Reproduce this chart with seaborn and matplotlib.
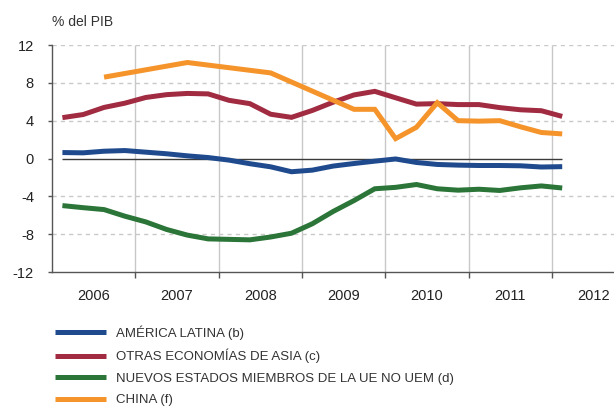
import numpy as np
import pandas as pd
import matplotlib
matplotlib.use("Agg")
import matplotlib.pyplot as plt
import seaborn as sns
from matplotlib.lines import Line2D

# ---------------- data ----------------
quarters = [f"{y}Q{q}" for y in range(2006, 2012) for q in range(1, 5)] + ["2012Q1"]

america_latina = [0.63, 0.6, 0.77, 0.84, 0.67, 0.5, 0.28, 0.1, -0.17, -0.55,
                  -0.88, -1.4, -1.23, -0.8, -0.53, -0.28, -0.05, -0.42, -0.63, -0.7,
                  -0.74, -0.74, -0.77, -0.9, -0.86]
otras_asia = [4.32, 4.65, 5.4, 5.85, 6.45, 6.75, 6.88, 6.83, 6.15, 5.8,
              4.68, 4.35, 5.08, 5.95, 6.72, 7.1, 6.42, 5.75, 5.8, 5.7,
              5.7, 5.38, 5.15, 5.05, 4.45]
nuevos_ue = [-4.98, -5.2, -5.4, -6.1, -6.7, -7.5, -8.1, -8.5, -8.55, -8.6,
             -8.3, -7.9, -6.9, -5.6, -4.45, -3.2, -3.05, -2.75, -3.2, -3.35,
             -3.25, -3.38, -3.1, -2.9, -3.12]
china = [np.nan, np.nan, 8.6, np.nan, np.nan, np.nan, 10.15, np.nan, np.nan, np.nan,
         9.05, np.nan, np.nan, np.nan, 5.2, 5.2, 2.1, 3.3, 5.9, 4.0,
         3.95, 4.0, 3.35, 2.75, 2.6]

series_names = ["AMÉRICA LATINA (b)", "OTRAS ECONOMÍAS DE ASIA (c)",
                "NUEVOS ESTADOS MIEMBROS DE LA UE NO UEM (d)", "CHINA (f)"]
series_values = [america_latina, otras_asia, nuevos_ue, china]
colors = ["#1f4b8e", "#a12c42", "#2b7538", "#f5942a"]

year_ticks = [2006, 2007, 2008, 2009, 2010, 2011, 2012]
y_ticks = [-12, -8, -4, 0, 4, 8, 12]

# ---------------- frame ----------------
def q_to_x(q):
    y, qq = q.split("Q")
    return int(y) + (int(qq) - 0.5) / 4.0

x = [q_to_x(q) for q in quarters]
rows = []
for name, vals in zip(series_names, series_values):
    for xi, v in zip(x, vals):
        rows.append({"x": xi, "valor": v, "serie": name})
df = pd.DataFrame(rows).dropna()

sns.set_style("white")
plt.rcParams["font.family"] = ["Liberation Sans", "DejaVu Sans"]

W, H = 614, 409
fig = plt.figure(figsize=(W / 100, H / 100), dpi=100)
left_px, right_px, top_px, bot_px = 52, 52 + 7 * 83.3, 45, 272
ax = fig.add_axes([left_px / W, (H - bot_px) / H, (right_px - left_px) / W, (bot_px - top_px) / H])

ax.set_xlim(2006, 2013)
ax.set_ylim(-12, 12)

# grids
for yv in y_ticks:
    if yv not in (0, -12):
        ax.axhline(yv, color="#c9c9c9", lw=1.0, ls=(0, (3, 3)), zorder=0)
for xv in year_ticks[1:]:
    ax.axvline(xv, color="#c8c8c8", lw=1.0, zorder=0)

ax.hlines(0, x[0], x[-1], color="#3a3a3a", lw=1.0, zorder=1)

sns.lineplot(data=df, x="x", y="valor", hue="serie", hue_order=series_names,
             palette=colors, linewidth=3.6, legend=False, ax=ax, zorder=3,
             estimator=None, sort=True)
for ln in ax.get_lines():
    ln.set_solid_capstyle("butt")
    ln.set_solid_joinstyle("miter")

ax.set_xlabel("")
ax.set_ylabel("")

for s in ["top", "right"]:
    ax.spines[s].set_visible(False)
for s in ["left", "bottom"]:
    ax.spines[s].set_color("#555555")
    ax.spines[s].set_linewidth(1.0)

ax.set_yticks(y_ticks)
ax.set_yticklabels([str(v) for v in y_ticks])
ax.tick_params(axis="y", length=3, width=1, color="#555555", pad=10, labelsize=10.5,
               labelcolor="#222222", left=True)

ax.set_xticks(year_ticks[1:])
ax.set_xticklabels([])
ax.tick_params(axis="x", which="major", length=4, width=1, color="#555555", bottom=True)
ax.set_xticks([v + 0.5 for v in year_ticks], minor=True)
ax.set_xticklabels([str(v) for v in year_ticks], minor=True)
ax.tick_params(axis="x", which="minor", length=0, pad=12, labelsize=10.5, labelcolor="#222222")

fig.text(52 / W, (H - 22) / H, "% del PIB", ha="left", va="center", fontsize=10,
         color="#333333")

handles = [Line2D([0], [0], color=c, lw=3.6, solid_capstyle="butt") for c in colors]
leg = fig.legend(handles, series_names, loc="upper left",
                 bbox_to_anchor=(55 / W, (H - 325) / H), frameon=False,
                 borderpad=0, borderaxespad=0, handlelength=3.86, handletextpad=0.76,
                 labelspacing=0.7,
                 prop={"family": "Liberation Sans", "size": 9.5})
for t in leg.get_texts():
    t.set_color("#333333")

fig.savefig("out.png", dpi=100)
